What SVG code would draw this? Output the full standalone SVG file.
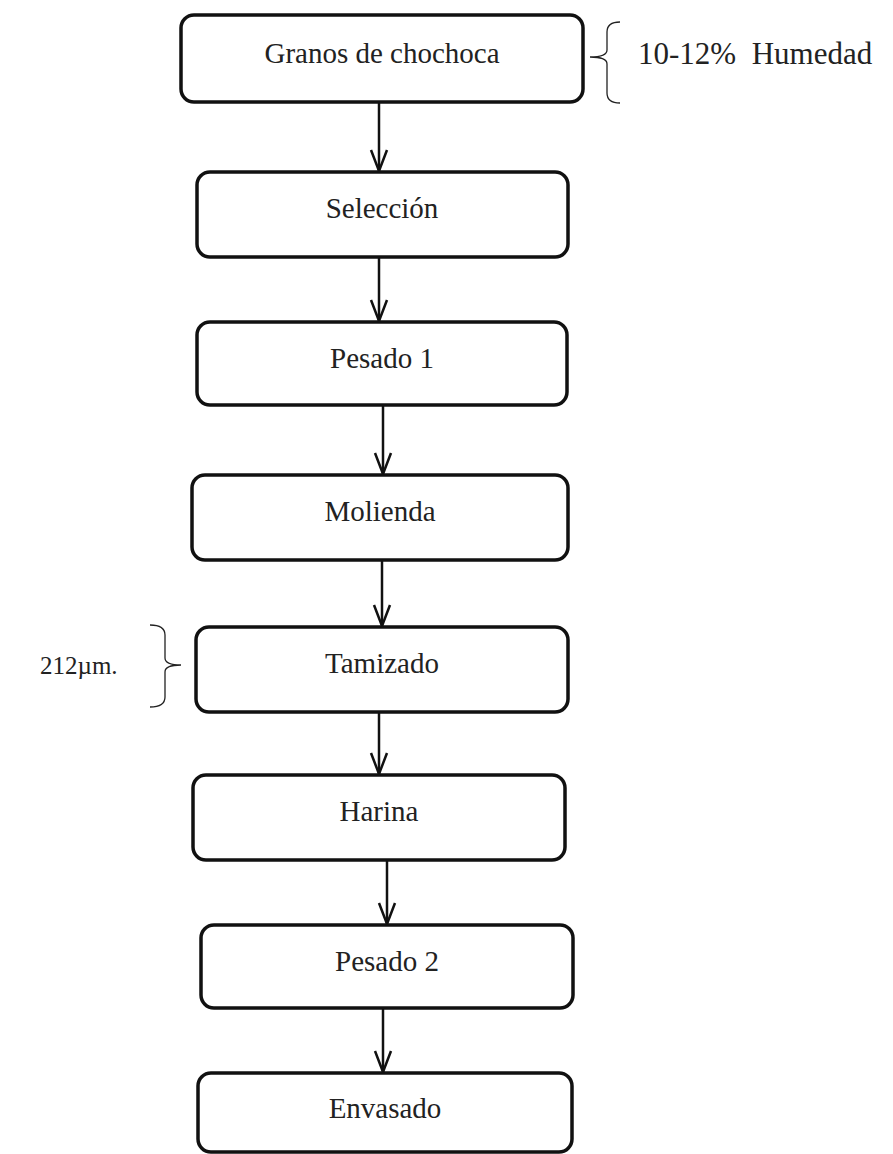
<svg xmlns="http://www.w3.org/2000/svg" width="893" height="1154" viewBox="0 0 893 1154">
<defs>
<style>
.box{fill:#fff;stroke:#111;stroke-width:3.5}
.lbl{font-family:"Liberation Serif","Times New Roman",serif;font-size:29px;fill:#222;text-anchor:middle}
.note{font-family:"Liberation Serif","Times New Roman",serif;font-size:29px;fill:#222}
.conn{stroke:#111;stroke-width:2.5;fill:none}
.brace{stroke:#222;stroke-width:1.3;fill:none}
</style>
</defs>
<rect width="893" height="1154" fill="#fff"/>
<g id="connectors">
<line class="conn" x1="379" y1="102" x2="379" y2="171"/>
<line class="conn" x1="379" y1="257" x2="379" y2="321"/>
<line class="conn" x1="383" y1="405" x2="383" y2="474"/>
<line class="conn" x1="382" y1="560" x2="382" y2="626"/>
<line class="conn" x1="379" y1="712" x2="379" y2="774"/>
<line class="conn" x1="387" y1="860" x2="387" y2="924"/>
<line class="conn" x1="383" y1="1008" x2="383" y2="1072"/>
<path class="conn" d="M371,150 L379,171 L387,150"/>
<path class="conn" d="M371,300 L379,321 L387,300"/>
<path class="conn" d="M375,453 L383,474 L391,453"/>
<path class="conn" d="M374,605 L382,626 L390,605"/>
<path class="conn" d="M371,753 L379,774 L387,753"/>
<path class="conn" d="M379,903 L387,924 L395,903"/>
<path class="conn" d="M375,1051 L383,1072 L391,1051"/>
</g>
<g id="n1"><rect class="box" x="181" y="15" width="402" height="87" rx="13"/><text class="lbl" x="382" y="63">Granos de chochoca</text></g>
<g id="n2"><rect class="box" x="197" y="172" width="371" height="85" rx="13"/><text class="lbl" x="382" y="218">Selección</text></g>
<g id="n3"><rect class="box" x="197" y="322" width="370" height="83" rx="13"/><text class="lbl" x="382" y="368">Pesado 1</text></g>
<g id="n4"><rect class="box" x="192" y="475" width="376" height="85" rx="13"/><text class="lbl" x="380" y="521">Molienda</text></g>
<g id="n5"><rect class="box" x="196" y="627" width="372" height="85" rx="13"/><text class="lbl" x="382" y="673">Tamizado</text></g>
<g id="n6"><rect class="box" x="193" y="775" width="372" height="85" rx="13"/><text class="lbl" x="379" y="821">Harina</text></g>
<g id="n7"><rect class="box" x="201" y="925" width="372" height="83" rx="13"/><text class="lbl" x="387" y="971">Pesado 2</text></g>
<g id="n8"><rect class="box" x="198" y="1073" width="374" height="79" rx="13"/><text class="lbl" x="385" y="1118">Envasado</text></g>
<g id="note-humedad">
<path class="brace" d="M620,22 Q607,22 607,32 L607,50 Q607,57 590,57 Q607,57 607,64 L607,93 Q607,103 620,103"/>
<text class="note" x="638" y="64" style="font-size:31px" xml:space="preserve">10-12%  Humedad</text>
</g>
<g id="note-tamiz">
<path class="brace" d="M150,625 Q165,625 165,635 L165,658 Q165,665 181,665 Q165,665 165,672 L165,697 Q165,707 150,707"/>
<text class="note" x="40" y="674" style="font-size:25px">212µm.</text>
</g>
</svg>
